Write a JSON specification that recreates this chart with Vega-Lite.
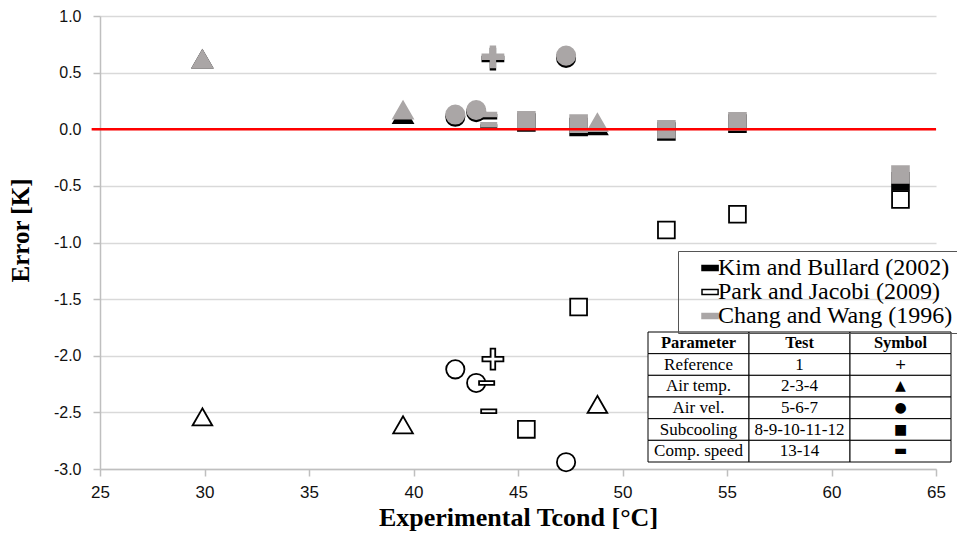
{
  "$schema": "https://vega.github.io/schema/vega-lite/v6.json",
  "width": 836,
  "height": 453,
  "autosize": {"type": "none"},
  "padding": {"left": 100, "top": 16, "right": 21, "bottom": 68},
  "background": "white",
  "config": {"view": {"stroke": null}},
  "datasets": {
    "pts": [
      {"model": "Park and Jacobi (2009)", "param": "Reference", "temp": 43.8, "error": -2.03},
      {"model": "Park and Jacobi (2009)", "param": "Air temp.", "temp": 29.9, "error": -2.54},
      {"model": "Park and Jacobi (2009)", "param": "Air temp.", "temp": 39.5, "error": -2.61},
      {"model": "Park and Jacobi (2009)", "param": "Air temp.", "temp": 48.8, "error": -2.43},
      {"model": "Park and Jacobi (2009)", "param": "Air vel.", "temp": 42.0, "error": -2.12},
      {"model": "Park and Jacobi (2009)", "param": "Air vel.", "temp": 43.0, "error": -2.24},
      {"model": "Park and Jacobi (2009)", "param": "Air vel.", "temp": 47.3, "error": -2.94},
      {"model": "Park and Jacobi (2009)", "param": "Subcooling", "temp": 45.4, "error": -2.65},
      {"model": "Park and Jacobi (2009)", "param": "Subcooling", "temp": 47.9, "error": -1.57},
      {"model": "Park and Jacobi (2009)", "param": "Subcooling", "temp": 52.1, "error": -0.89},
      {"model": "Park and Jacobi (2009)", "param": "Subcooling", "temp": 55.5, "error": -0.75},
      {"model": "Park and Jacobi (2009)", "param": "Subcooling", "temp": 63.3, "error": -0.62},
      {"model": "Park and Jacobi (2009)", "param": "Comp. speed", "temp": 43.5, "error": -2.24},
      {"model": "Park and Jacobi (2009)", "param": "Comp. speed", "temp": 43.6, "error": -2.49},
      {"model": "Kim and Bullard (2002)", "param": "Reference", "temp": 43.8, "error": 0.62},
      {"model": "Kim and Bullard (2002)", "param": "Air temp.", "temp": 29.9, "error": 0.62},
      {"model": "Kim and Bullard (2002)", "param": "Air temp.", "temp": 39.5, "error": 0.13},
      {"model": "Kim and Bullard (2002)", "param": "Air temp.", "temp": 48.8, "error": 0.03},
      {"model": "Kim and Bullard (2002)", "param": "Air vel.", "temp": 42.0, "error": 0.11},
      {"model": "Kim and Bullard (2002)", "param": "Air vel.", "temp": 43.0, "error": 0.15},
      {"model": "Kim and Bullard (2002)", "param": "Air vel.", "temp": 47.3, "error": 0.63},
      {"model": "Kim and Bullard (2002)", "param": "Subcooling", "temp": 45.4, "error": 0.06},
      {"model": "Kim and Bullard (2002)", "param": "Subcooling", "temp": 47.9, "error": 0.02},
      {"model": "Kim and Bullard (2002)", "param": "Subcooling", "temp": 52.1, "error": -0.02},
      {"model": "Kim and Bullard (2002)", "param": "Subcooling", "temp": 55.5, "error": 0.05},
      {"model": "Kim and Bullard (2002)", "param": "Subcooling", "temp": 63.3, "error": -0.46},
      {"model": "Kim and Bullard (2002)", "param": "Comp. speed", "temp": 43.6, "error": 0.11},
      {"model": "Kim and Bullard (2002)", "param": "Comp. speed", "temp": 43.6, "error": 0.02},
      {"model": "Chang and Wang (1996)", "param": "Reference", "temp": 43.8, "error": 0.64},
      {"model": "Chang and Wang (1996)", "param": "Air temp.", "temp": 29.9, "error": 0.62},
      {"model": "Chang and Wang (1996)", "param": "Air temp.", "temp": 39.5, "error": 0.17},
      {"model": "Chang and Wang (1996)", "param": "Air temp.", "temp": 48.8, "error": 0.06},
      {"model": "Chang and Wang (1996)", "param": "Air vel.", "temp": 42.0, "error": 0.13},
      {"model": "Chang and Wang (1996)", "param": "Air vel.", "temp": 43.0, "error": 0.17},
      {"model": "Chang and Wang (1996)", "param": "Air vel.", "temp": 47.3, "error": 0.65},
      {"model": "Chang and Wang (1996)", "param": "Subcooling", "temp": 45.4, "error": 0.08},
      {"model": "Chang and Wang (1996)", "param": "Subcooling", "temp": 47.9, "error": 0.05},
      {"model": "Chang and Wang (1996)", "param": "Subcooling", "temp": 52.1, "error": 0.0},
      {"model": "Chang and Wang (1996)", "param": "Subcooling", "temp": 55.5, "error": 0.07},
      {"model": "Chang and Wang (1996)", "param": "Subcooling", "temp": 63.3, "error": -0.4},
      {"model": "Chang and Wang (1996)", "param": "Comp. speed", "temp": 43.6, "error": 0.13},
      {"model": "Chang and Wang (1996)", "param": "Comp. speed", "temp": 43.6, "error": 0.04}
    ],
    "tbl": [
      {"rowName": "Header", "col": "Parameter", "label": "Parameter", "kind": "head"},
      {"rowName": "Header", "col": "Test", "label": "Test", "kind": "head"},
      {"rowName": "Header", "col": "Symbol", "label": "Symbol", "kind": "head"},
      {"rowName": "Reference", "col": "Parameter", "label": "Reference", "kind": "body"},
      {"rowName": "Reference", "col": "Test", "label": "1", "kind": "body"},
      {"rowName": "Reference", "col": "Symbol", "label": "+", "kind": "sym"},
      {"rowName": "Air temp.", "col": "Parameter", "label": "Air temp.", "kind": "body"},
      {"rowName": "Air temp.", "col": "Test", "label": "2-3-4", "kind": "body"},
      {"rowName": "Air temp.", "col": "Symbol", "label": "▲", "kind": "sym"},
      {"rowName": "Air vel.", "col": "Parameter", "label": "Air vel.", "kind": "body"},
      {"rowName": "Air vel.", "col": "Test", "label": "5-6-7", "kind": "body"},
      {"rowName": "Air vel.", "col": "Symbol", "label": "●", "kind": "sym"},
      {"rowName": "Subcooling", "col": "Parameter", "label": "Subcooling", "kind": "body"},
      {"rowName": "Subcooling", "col": "Test", "label": "8-9-10-11-12", "kind": "body"},
      {"rowName": "Subcooling", "col": "Symbol", "label": "■", "kind": "sym"},
      {"rowName": "Comp. speed", "col": "Parameter", "label": "Comp. speed", "kind": "body"},
      {"rowName": "Comp. speed", "col": "Test", "label": "13-14", "kind": "body"},
      {"rowName": "Comp. speed", "col": "Symbol", "label": "▬", "kind": "sym"}
    ]
  },
  "layer": [
    {
      "layer": [
        {
          "data": {"name": "pts"},
          "mark": {"type": "point", "filled": true, "opacity": 1, "fillOpacity": 1, "strokeWidth": 1.8},
          "encoding": {
            "x": {
              "field": "temp", "type": "quantitative",
              "scale": {"domain": [25, 65], "nice": false, "zero": false},
              "axis": {
                "values": [25, 30, 35, 40, 45, 50, 55, 60, 65],
                "grid": false, "labelFlush": false, "labelOverlap": false,
                "domainColor": "#bfbfbf", "domainWidth": 1.5,
                "tickColor": "#bfbfbf", "tickSize": 7, "tickWidth": 1.5,
                "labelFont": "Liberation Sans", "labelFontSize": 17, "labelColor": "#111111", "labelPadding": 8,
                "title": "Experimental Tcond [°C]", "titleFont": "Liberation Serif", "titleFontSize": 26,
                "titleFontWeight": "bold", "titleColor": "#000000", "titlePadding": 4
              }
            },
            "y": {
              "field": "error", "type": "quantitative",
              "scale": {"domain": [-3, 1], "nice": false, "zero": false},
              "axis": {
                "values": [-3, -2.5, -2, -1.5, -1, -0.5, 0, 0.5, 1],
                "labelExpr": "datum.value < 0 ? '-' + format(-datum.value, '.1f') : format(datum.value, '.1f')",
                "grid": true, "gridColor": "#d9d9d9", "gridWidth": 1.5,
                "labelFlush": false, "labelOverlap": false,
                "domainColor": "#bfbfbf", "domainWidth": 1.5,
                "tickColor": "#bfbfbf", "tickSize": 7, "tickWidth": 1.5,
                "labelFont": "Liberation Sans", "labelFontSize": 16, "labelColor": "#111111", "labelPadding": 12,
                "title": "Error [K]", "titleFont": "Liberation Serif", "titleFontSize": 25,
                "titleFontWeight": "bold", "titleColor": "#000000", "titlePadding": 20, "titleY": 214
              }
            },
            "fill": {
              "field": "model", "type": "nominal",
              "scale": {"domain": ["Kim and Bullard (2002)", "Park and Jacobi (2009)", "Chang and Wang (1996)"], "range": ["#000000", "#ffffff", "#aaa6a6"]},
              "legend": {
                "title": null, "orient": "none", "legendX": 578, "legendY": 235,
                "strokeColor": "#555555", "padding": 5,
                "symbolType": "M1,-0.36H3.3V0.36H1Z", "symbolSize": 196, "symbolStrokeWidth": 1.5, "symbolOpacity": 1,
                "labelFont": "Liberation Serif", "labelFontSize": 24, "labelColor": "#000000", "labelOffset": 11,
                "rowPadding": -8, "labelLimit": 400
              }
            },
            "stroke": {
              "field": "model", "type": "nominal",
              "scale": {"domain": ["Kim and Bullard (2002)", "Park and Jacobi (2009)", "Chang and Wang (1996)"], "range": ["#000000", "#000000", "#aaa6a6"]},
              "legend": {
                "title": null, "orient": "none", "legendX": 578, "legendY": 235,
                "strokeColor": "#555555", "padding": 5,
                "symbolType": "M1,-0.36H3.3V0.36H1Z", "symbolSize": 196, "symbolStrokeWidth": 1.5, "symbolOpacity": 1,
                "labelFont": "Liberation Serif", "labelFontSize": 24, "labelColor": "#000000", "labelOffset": 11,
                "rowPadding": -8, "labelLimit": 400
              }
            },
            "shape": {
              "field": "param", "type": "nominal",
              "scale": {
                "domain": ["Reference", "Air temp.", "Air vel.", "Subcooling", "Comp. speed"],
                "range": ["M-1,-0.22H-0.22V-1H0.22V-0.22H1V0.22H0.22V1H-0.22V0.22H-1Z", "triangle-up", "circle", "square", "M-1,-0.25H1V0.25H-1Z"]
              },
              "legend": null
            },
            "size": {
              "field": "param", "type": "nominal",
              "scale": {"domain": ["Reference", "Air temp.", "Air vel.", "Subcooling", "Comp. speed"], "range": [440, 230, 200, 175, 300]},
              "legend": null
            }
          }
        },
        {
          "data": {"values": [{}]},
          "mark": {"type": "rule", "color": "#ff0000", "strokeWidth": 2.5},
          "encoding": {"y": {"datum": 0}, "x": {"datum": 24.6}, "x2": {"datum": 65}}
        }
      ]
    },
    {
      "data": {"name": "tbl"},
      "encoding": {
        "x": {
          "field": "col", "type": "nominal",
          "scale": {"domain": ["Parameter", "Test", "Symbol"], "range": [548, 851], "paddingInner": 0, "paddingOuter": 0},
          "axis": null
        },
        "y": {
          "field": "rowName", "type": "nominal",
          "scale": {"domain": ["Header", "Reference", "Air temp.", "Air vel.", "Subcooling", "Comp. speed"], "range": [316, 446], "paddingInner": 0, "paddingOuter": 0},
          "axis": null
        }
      },
      "layer": [
        {"mark": {"type": "rect", "fill": "#ffffff", "stroke": "#000000", "strokeWidth": 1}},
        {
          "transform": [{"filter": "datum.kind == 'head'"}],
          "mark": {"type": "text", "font": "Liberation Serif", "fontSize": 16.5, "fontWeight": "bold", "color": "#000000"},
          "encoding": {"text": {"field": "label"}}
        },
        {
          "transform": [{"filter": "datum.kind == 'body'"}],
          "mark": {"type": "text", "font": "Liberation Serif", "fontSize": 17, "color": "#000000"},
          "encoding": {"text": {"field": "label"}}
        },
        {
          "transform": [{"filter": "datum.kind == 'sym'"}],
          "mark": {"type": "text", "font": "DejaVu Sans", "fontSize": 14, "color": "#000000"},
          "encoding": {"text": {"field": "label"}}
        }
      ]
    }
  ],
  "resolve": {"scale": {"x": "independent", "y": "independent"}}
}
